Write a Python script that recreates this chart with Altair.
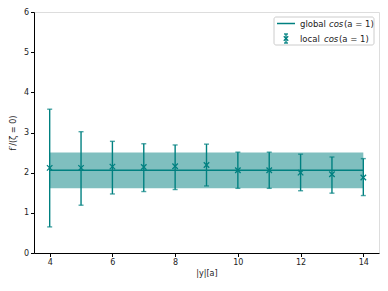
import altair as alt
import pandas as pd

# data
xs = [4, 5, 6, 7, 8, 9, 10, 11, 12, 13, 14]
centers = [2.12, 2.12, 2.15, 2.14, 2.16, 2.19, 2.06, 2.06, 2.00, 1.96, 1.88]
lowers = [0.65, 1.19, 1.47, 1.53, 1.58, 1.67, 1.61, 1.61, 1.55, 1.49, 1.43]
uppers = [3.58, 3.02, 2.78, 2.72, 2.69, 2.71, 2.51, 2.51, 2.46, 2.39, 2.35]
global_value = [2.06]
global_low = [1.61]
global_high = [2.50]
x_range = [4, 14]

TEAL = "#008080"
W, H = 345, 241

df = pd.DataFrame({"x": xs, "c": centers, "lo": lowers, "hi": uppers})
gdf = pd.DataFrame({"x": [x_range[0]], "x2": [x_range[1]], "v": global_value,
                    "lo": global_low, "hi": global_high})

xscale = alt.Scale(domain=[3.5, 14.5], nice=False, zero=False)
yscale = alt.Scale(domain=[0, 6], nice=False)

xaxis = alt.Axis(values=[4, 6, 8, 10, 12, 14], title="|y|[a]", grid=False,
                 tickSize=3.5, labelPadding=2, titlePadding=3, labelFontSize=8,
                 titleFontSize=8, titleFontWeight="normal", domainColor="black",
                 tickColor="black", labelColor="#222", titleColor="#222", labelFont="DejaVu Sans",
                 titleFont="DejaVu Sans")
yaxis = alt.Axis(values=[0, 1, 2, 3, 4, 5, 6], title="f′/(ζ = 0)", grid=False,
                 tickSize=3.5, labelPadding=2, titlePadding=6, labelFontSize=8,
                 titleFontSize=8, titleFontWeight="normal", domainColor="black",
                 tickColor="black", labelColor="#222", titleColor="#222", labelFont="DejaVu Sans",
                 titleFont="DejaVu Sans")

band = alt.Chart(gdf).mark_rect(color=TEAL, opacity=0.5).encode(
    x=alt.X("x:Q", scale=xscale, axis=xaxis), x2="x2:Q",
    y=alt.Y("lo:Q", scale=yscale, axis=yaxis), y2="hi:Q")
gline = alt.Chart(gdf).mark_rule(color=TEAL, strokeWidth=1.5).encode(
    x="x:Q", x2="x2:Q", y="v:Q")

bars = alt.Chart(df).mark_rule(color=TEAL, strokeWidth=1.4).encode(
    x="x:Q", y="lo:Q", y2="hi:Q")
caps_hi = alt.Chart(df).mark_tick(color=TEAL, orient="horizontal", size=5, thickness=1.4).encode(
    x="x:Q", y="hi:Q")
caps_lo = alt.Chart(df).mark_tick(color=TEAL, orient="horizontal", size=5, thickness=1.4).encode(
    x="x:Q", y="lo:Q")
pts = alt.Chart(df).mark_point(shape="M-1,-1L1,1M-1,1L1,-1", filled=False, color=TEAL,
                               size=30, strokeWidth=1.3, opacity=1).encode(x="x:Q", y="c:Q")

# legend (manual)
leg_box = alt.Chart(gdf).mark_rect(fill="white", stroke="#cccccc", strokeWidth=1,
                                   cornerRadius=2).encode(
    x=alt.value(240), x2=alt.value(340), y=alt.value(5), y2=alt.value(33))
leg_line = alt.Chart(gdf).mark_rule(color=TEAL, strokeWidth=1.5).encode(
    x=alt.value(243), x2=alt.value(261), y=alt.value(11.5))
leg_bar = alt.Chart(gdf).mark_rule(color=TEAL, strokeWidth=1.3).encode(
    x=alt.value(252), y=alt.value(22), y2=alt.value(31))
leg_cap1 = alt.Chart(gdf).mark_rule(color=TEAL, strokeWidth=1.3).encode(
    x=alt.value(250), x2=alt.value(254), y=alt.value(22))
leg_cap2 = alt.Chart(gdf).mark_rule(color=TEAL, strokeWidth=1.3).encode(
    x=alt.value(250), x2=alt.value(254), y=alt.value(31))
leg_x = alt.Chart(gdf).mark_point(shape="M-1,-1L1,1M-1,1L1,-1", filled=False, color=TEAL,
                                  size=20, strokeWidth=1.3, opacity=1).encode(
    x=alt.value(252), y=alt.value(26.5))

def txt(s, x, y, italic=False):
    return alt.Chart(gdf).mark_text(text=s, align="left", baseline="middle", fontSize=8.5,
                                    font="DejaVu Sans", color="#222",
                                    fontStyle="italic" if italic else "normal").encode(
        x=alt.value(x), y=alt.value(y))

legend = [leg_box, leg_line, leg_bar, leg_cap1, leg_cap2, leg_x,
          txt("global", 266, 11.5), txt("cos", 295, 11.5, True), txt("(a = 1)", 310, 11.5),
          txt("local", 266, 26.5), txt("cos", 290, 26.5, True), txt("(a = 1)", 305, 26.5)]

chart = alt.layer(band, gline, bars, caps_hi, caps_lo, pts, *legend).properties(
    width=W, height=H, autosize=alt.AutoSizeParams(type="none"),
    padding={"left": 26, "top": 4, "right": 1, "bottom": 30}
).configure_view(stroke="black", strokeWidth=1).configure(background="white")

chart.save("out.html", embed_options={"renderer": "svg", "actions": False})
